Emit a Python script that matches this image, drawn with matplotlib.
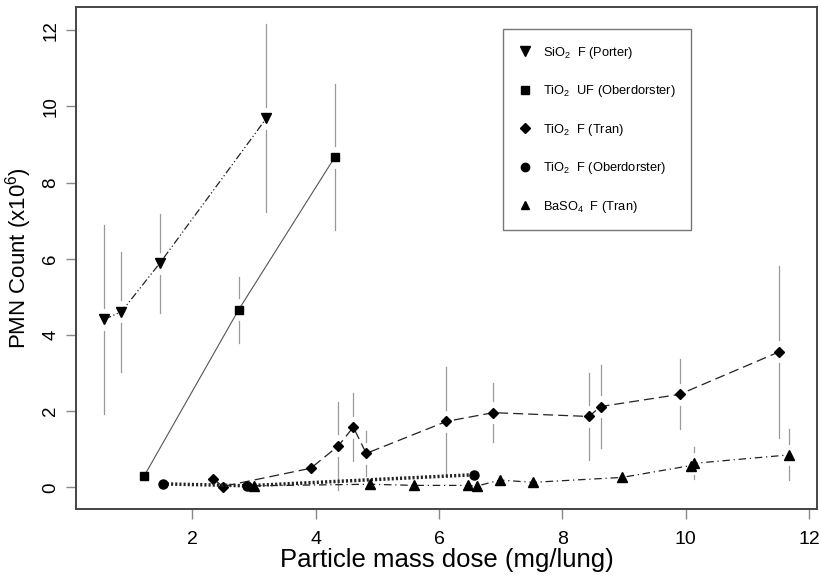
import matplotlib
matplotlib.use("Agg")
import matplotlib.pyplot as plt
from matplotlib.lines import Line2D

plt.rcParams['font.family'] = ['Liberation Sans', 'DejaVu Sans']
plt.rcParams['mathtext.default'] = 'regular'

# ---- data ----
sio2_x = [0.57, 0.85, 1.47, 3.20]
sio2_y = [4.41, 4.61, 5.88, 9.69]
sio2_err = [2.48, 1.58, 1.30, 2.47]

tio2uf_x = [1.22, 2.75, 4.31]
tio2uf_y = [0.30, 4.66, 8.67]
tio2uf_err = [0.0, 0.87, 1.92]

tio2tran_x = [2.34, 2.49, 3.92, 4.37, 4.61, 4.82, 6.12, 6.88, 8.43, 8.62, 9.90, 11.52]
tio2tran_y = [0.23, 0.02, 0.50, 1.09, 1.58, 0.89, 1.73, 1.96, 1.86, 2.12, 2.44, 3.56]
tio2tran_err = [0, 0, 0, 1.16, 0.90, 0.59, 1.44, 0.78, 1.15, 1.10, 0.92, 2.26]

tio2ob_x = [1.52, 2.88, 6.57]
tio2ob_y = [0.09, 0.04, 0.33]
tio2ob_err = [0, 0, 0]

baso4_x = [3.00, 4.88, 5.60, 6.47, 6.61, 6.99, 7.52, 8.97, 10.08, 10.14, 11.67]
baso4_y = [0.04, 0.08, 0.05, 0.05, 0.03, 0.19, 0.13, 0.26, 0.57, 0.63, 0.85]
baso4_err = [0, 0, 0, 0, 0, 0, 0, 0, 0, 0.42, 0.67]

labels = [r'SiO$_2$  F (Porter)', r'TiO$_2$  UF (Oberdorster)', r'TiO$_2$  F (Tran)',
          r'TiO$_2$  F (Oberdorster)', r'BaSO$_4$  F (Tran)']
xticks = [2, 4, 6, 8, 10, 12]
yticks = [0, 2, 4, 6, 8, 10, 12]

# ---- figure ----
fig = plt.figure(figsize=(8.21, 5.79), dpi=100)
ax = fig.add_axes([0.0926, 0.1209, 0.9022, 0.8675])

gap = 0.3
def errbars(xs, ys, es):
    for x, y, e in zip(xs, ys, es):
        if e > gap:
            ax.plot([x, x], [y + gap, y + e], color='#9a9a9a', lw=0.9, zorder=1)
            ax.plot([x, x], [y - e, y - gap], color='#9a9a9a', lw=0.9, zorder=1)

errbars(sio2_x, sio2_y, sio2_err)
errbars(tio2uf_x, tio2uf_y, tio2uf_err)
errbars(tio2tran_x, tio2tran_y, tio2tran_err)
errbars(baso4_x, baso4_y, baso4_err)

ax.plot(sio2_x, sio2_y, color='#222222', lw=0.9, dashes=[6, 2, 1, 2, 1, 2],
        marker='v', ms=7, mfc='black', mec='black', zorder=3)
ax.plot(tio2uf_x, tio2uf_y, color='#555555', lw=0.8, ls='-',
        marker='s', ms=6, mfc='black', mec='black', zorder=3)
ax.plot(tio2tran_x, tio2tran_y, color='#222222', lw=0.9, dashes=[8, 4],
        marker='D', ms=5.5, mfc='black', mec='black', zorder=3)
ax.plot(tio2ob_x, tio2ob_y, color='#222222', lw=2.5, dashes=[0.6, 0.6],
        marker='o', ms=6.5, mfc='black', mec='black', zorder=3)
ax.plot(baso4_x, baso4_y, color='#222222', lw=0.9, dashes=[6, 3, 1, 3],
        marker='^', ms=6.5, mfc='black', mec='black', zorder=3)

ax.set_xlim(0.114, 12.125)
ax.set_ylim(-0.57, 12.62)
ax.set_xticks(xticks)
ax.set_yticks(yticks)
ax.set_xticklabels([str(t) for t in xticks], fontsize=14)
ax.set_yticklabels([str(t) for t in yticks], fontsize=13.5, rotation=90, va='center')
ax.tick_params(axis='both', direction='out', length=7, width=1, color='#888888', pad=5)
ax.tick_params(axis='x', pad=9)
for sp in ax.spines.values():
    sp.set_color('#444444')
    sp.set_linewidth(1.4)

ax.set_xlabel('Particle mass dose (mg/lung)', fontsize=18.5, labelpad=0)
ax.set_ylabel(r'PMN Count (x10$^6$)', fontsize=16, labelpad=6)

handles = [Line2D([], [], ls='none', marker=m, color='black', ms=s)
           for m, s in zip(['v', 's', 'D', 'o', '^'], [6.5, 6, 5, 6, 6])]
leg = ax.legend(handles, labels, loc='upper left', bbox_to_anchor=(0.5765, 0.9556),
                fontsize=9.3, labelspacing=1.75, handlelength=1.0, handletextpad=0.9,
                borderpad=1.2, borderaxespad=0, frameon=True, fancybox=False)
leg.get_frame().set_edgecolor('#555555')
leg.get_frame().set_linewidth(1.0)

fig.savefig('out.png', dpi=100)
